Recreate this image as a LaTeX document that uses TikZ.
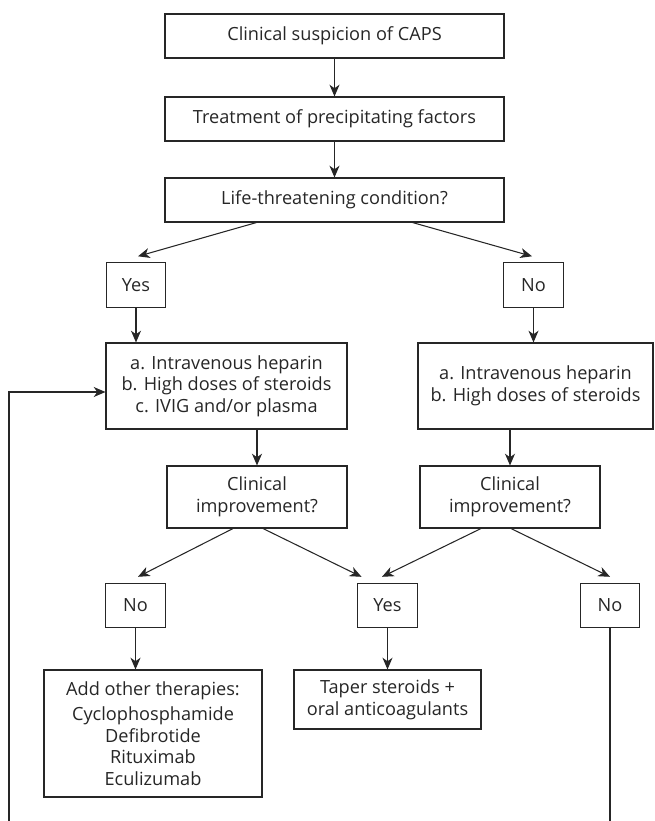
\documentclass[tikz,border=0pt]{standalone}
\usepackage{fontspec}
\setmainfont{Open Sans}
\usepackage{tikz}
\usetikzlibrary{calc}
\usetikzlibrary{arrows.meta}

\begin{document}
\begin{tikzpicture}[x=0.03cm,y=0.03cm,
	box/.style={draw=black!85,line width=0.9pt,align=center,inner sep=0pt,text=black!85,
		font=\fontsize{15.5}{18.5}\selectfont},
	wide/.style={box,minimum width=10.17cm,minimum height=1.32cm},
	tick/.style={box,minimum width=1.78cm,minimum height=1.33cm},
	ask/.style={box,minimum width=5.4cm,minimum height=1.86cm},
	arr/.style={draw=black!85,line width=0.9pt,-{Stealth[length=10pt,width=8.5pt,inset=3pt]}}]
		\useasboundingbox (0,0) rectangle (655,-821);
		\node[wide] (c1) at (334.5,-36) {Clinical suspicion of CAPS};
		\node[wide] (c2) at (334.5,-119) {Treatment of precipitating factors};
		\node[wide] (c3) at (334.5,-200) {Life-threatening condition?};
		\draw[arr] (c1)--(c2);
		\draw[arr] (c2)--(c3);
		% first answer
		\node[tick] (yes1) at (136,-285) {Yes};
		\node[tick] (no1) at (533.5,-285) {No};
		\draw[arr] ($(c3.south)+(-78,0)$)--($(yes1.north)+(2,6)$);
		\draw[arr] ($(c3.south)+(78,0)$)--($(no1.north)+(-1.5,6)$);
		% treatments
		\node[box,minimum width=7.23cm,minimum height=2.58cm] (hep1) at (226.5,-386)
			{a. Intravenous heparin\\b. High doses of steroids\\c. IVIG and/or plasma};
		\node[box,minimum width=7.05cm,minimum height=2.58cm] (hep2) at (535.5,-386)
			{a. Intravenous heparin\\b. High doses of steroids};
		\draw[arr] (yes1)--(yes1 |- hep1.north);
		\draw[arr] (no1)--(no1 |- hep2.north);
		\node[ask] (ci1) at (257,-497) {Clinical\\improvement?};
		\node[ask] (ci2) at (510,-497) {Clinical\\improvement?};
		\draw[arr] (ci1 |- hep1.south)--(ci1);
		\draw[arr] (ci2 |- hep2.south)--(ci2);
		% second answer
		\node[tick] (no2) at (135.5,-605.5) {No};
		\node[tick] (yes2) at (387.5,-605.5) {Yes};
		\node[tick] (no3) at (610,-605.5) {No};
		\draw[arr] ($(ci1.south)+(-24,0)$)--($(no2.north)+(2.5,6)$);
		\draw[arr] ($(ci1.south)+(6,0)$)--($(yes2.north)+(-26,6)$);
		\draw[arr] ($(ci2.south)+(-29,0)$)--($(yes2.north)+(-5.5,6)$);
		\draw[arr] ($(ci2.south)+(1,0)$)--($(no3.north)+(0,6)$);
		\node[box,minimum width=6.54cm,minimum height=3.81cm] (add) at (153,-733.5)
			{Add other therapies:\\[3pt]Cyclophosphamide\\Defibrotide\\Rituximab\\Eculizumab};
		\node[box,minimum width=5.61cm,minimum height=1.77cm] (taper) at (387.5,-699.5)
			{Taper steroids +\\oral anticoagulants};
		\draw[arr] (no2)--(no2 |- add.north);
		\draw[arr] (yes2)--(taper);
		% loop back
		\coordinate (loopL) at (9,-821);
		\coordinate (loopR) at (610,-821);
		\draw[draw=black!85,line width=0.9pt] (no3)--(loopR);
		\draw[arr] (loopL) |- ($(hep1.west)+(0,-6)$);
\end{tikzpicture}
\end{document}
